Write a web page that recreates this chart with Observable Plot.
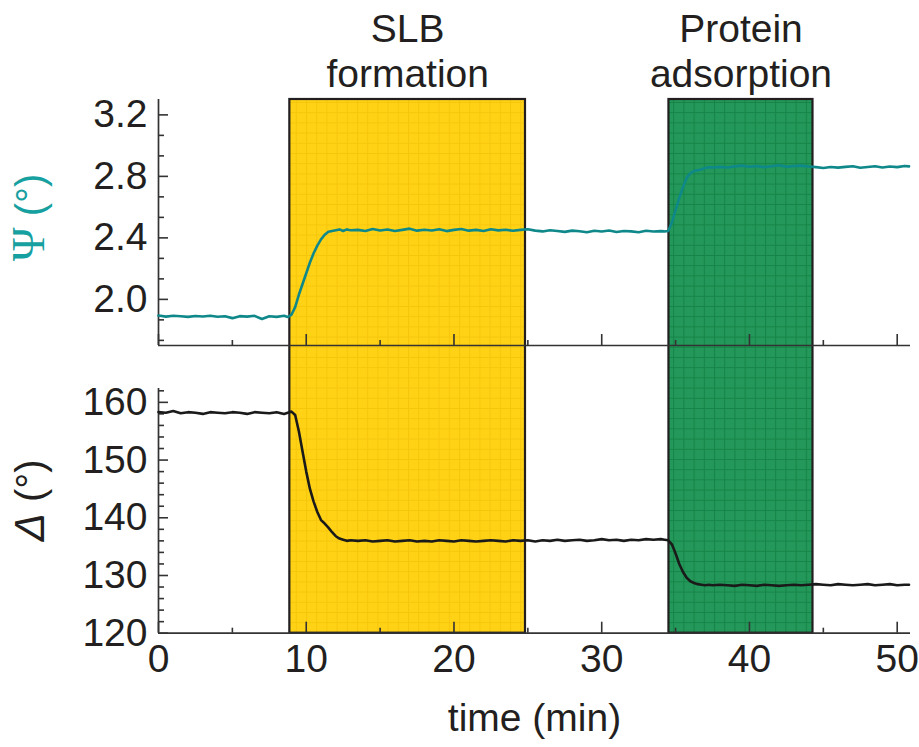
<!DOCTYPE html>
<html><head><meta charset="utf-8">
<script src="https://cdn.jsdelivr.net/npm/d3@7"></script>
<script src="https://cdn.jsdelivr.net/npm/@observablehq/plot@0.6"></script>
<style>
body{margin:0;background:#fff;}
#chart{position:relative;width:919px;height:747px;}
#chart svg{position:absolute;left:0;top:0;}
</style></head><body><div id="chart"></div>
<script>
// ---- data ----
const time = [0,0.5,1,1.5,2,2.5,3,3.5,4,4.5,5,5.5,6,6.5,7,7.5,8,8.5,
 8.75,9,9.25,9.5,9.75,10,10.25,10.5,10.75,11,11.25,11.5,11.75,12,12.25,12.5,12.75,13,
 13.5,14,14.5,15,15.5,16,16.5,17,17.5,18,18.5,19,19.5,20,20.5,21,21.5,22,22.5,23,23.5,24,24.5,25,25.5,26,26.5,27,27.5,28,28.5,29,29.5,30,30.5,31,31.5,32,32.5,33,33.5,34,
 34.25,34.5,34.75,35,35.25,35.5,35.75,36,36.25,36.5,36.75,37,37.25,37.5,
 38,38.5,39,39.5,40,40.5,41,41.5,42,42.5,43,43.5,44,44.5,45,45.5,46,46.5,47,47.5,48,48.5,49,49.5,50,50.5,50.8];
const psi = [1.895,1.888,1.893,1.89,1.886,1.892,1.889,1.894,1.887,1.89,1.878,1.891,1.888,1.893,1.872,1.89,1.886,1.893,
 1.885,1.9,1.95,2.03,2.1,2.17,2.24,2.3,2.35,2.39,2.42,2.44,2.445,2.45,2.455,2.445,2.455,2.45,
 2.452,2.445,2.458,2.448,2.455,2.445,2.452,2.46,2.447,2.453,2.448,2.456,2.444,2.452,2.458,2.447,2.452,2.445,2.456,2.449,2.453,2.446,2.452,2.456,2.447,2.442,2.45,2.445,2.439,2.447,2.443,2.437,2.446,2.441,2.448,2.438,2.445,2.442,2.437,2.446,2.441,2.444,
 2.442,2.445,2.5,2.58,2.66,2.73,2.79,2.82,2.835,2.84,2.845,2.855,2.86,2.858,
 2.862,2.858,2.865,2.87,2.863,2.868,2.86,2.866,2.872,2.862,2.867,2.87,2.864,2.86,2.855,2.861,2.857,2.862,2.866,2.856,2.861,2.866,2.858,2.864,2.86,2.868,2.865];
const delta = [158.3,158.2,158.5,158.1,158.3,158.2,158.0,158.3,158.2,158.1,158.3,158.2,158.0,158.3,158.2,158.1,158.3,158.0,
 158.2,158.4,157.8,155.0,151.5,148.0,145.0,142.8,141.0,139.6,139.0,138.3,137.5,136.8,136.4,136.2,136.0,136.1,
 136.0,136.1,135.9,136.0,136.1,135.9,136.0,136.1,135.9,136.0,135.9,136.1,136.0,135.9,136.1,136.0,135.9,136.0,136.1,136.0,135.9,136.1,136.0,136.1,135.9,136.1,136.0,136.2,136.0,136.1,136.2,136.0,136.1,136.3,136.1,136.2,136.0,136.2,136.1,136.3,136.2,136.3,
 136.2,136.1,135.4,133.8,132.0,130.6,129.6,129.0,128.7,128.5,128.4,128.3,128.4,128.3,
 128.4,128.3,128.2,128.4,128.3,128.2,128.4,128.3,128.2,128.3,128.4,128.3,128.4,128.5,128.4,128.3,128.5,128.4,128.3,128.4,128.5,128.3,128.4,128.5,128.3,128.4,128.4];
const psiTicks = [2.0, 2.4, 2.8, 3.2];
const psiMinorTicks = [1.7333, 1.8667, 2.1333, 2.2667, 2.5333, 2.6667, 2.9333, 3.0667];
const deltaTicks = [120, 130, 140, 150, 160];
const deltaMinorTicks = [122,124,126,128,132,134,136,138,142,144,146,148,152,154,156,158,162];
const timeTicks = [0, 10, 20, 30, 40, 50];
const timeMinorTicks = [5, 15, 25, 35, 45];
const stepLabels = ["SLB\nformation", "Protein\nadsorption"];
const stepStart = [8.89, 34.55];
const stepEnd = [24.84, 44.3];
const timeDomain = [0, 50.9];
const psiDomain = [1.70, 3.30];
const deltaDomain = [120, 162.4];

// ---- tables ----
const rows = time.map((t, i) => ({t, psi: psi[i], delta: delta[i]}));
const steps = stepLabels.map((label, i) => ({label, start: stepStart[i], end: stepEnd[i]}));

// ---- styling ----
const W = 919, H = 747, ML = 158, MR = 9;
const FONT = "'Liberation Sans', Arial, Helvetica, sans-serif";
const INK = "#231f20", AXIS = "#333333", TEAL = "#0f888a", TEAL_LABEL = "#17a0a0";
const FS = 39;
const baseStyle = {background: "transparent", font: `${FS}px ${FONT}`, color: INK, overflow: "visible"};
const tickOpts = {stroke: AXIS, strokeWidth: 1.6, tickFormat: () => "", label: null};

const lower = Plot.plot({
  width: W, height: H, marginLeft: ML, marginRight: MR, marginTop: 99, marginBottom: 114.3,
  x: {domain: timeDomain},
  y: {domain: deltaDomain, range: [632.7, 388]},
  style: baseStyle,
  marks: [
    Plot.rect([steps[0]], {x1: "start", x2: "end", fill: "url(#slbPattern)", stroke: INK, strokeWidth: 2.2}),
    Plot.rect([steps[1]], {x1: "start", x2: "end", fill: "url(#proteinPattern)", stroke: INK, strokeWidth: 2.2}),
    Plot.ruleX([timeDomain[0]], {y1: () => deltaDomain[0], y2: () => deltaDomain[1], stroke: AXIS, strokeWidth: 1.7}),
    Plot.ruleY([deltaDomain[0]], {stroke: AXIS, strokeWidth: 1.7}),
    Plot.axisY(deltaTicks, {...tickOpts, tickSize: -10}),
    Plot.axisY(deltaMinorTicks, {...tickOpts, tickSize: -6}),
    Plot.axisY(deltaTicks, {tickSize: 0, tickPadding: 11, label: null, fill: INK, fontSize: FS}),
    Plot.axisX(timeTicks, {...tickOpts, anchor: "bottom", tickSize: -11}),
    Plot.axisX(timeMinorTicks, {...tickOpts, anchor: "bottom", tickSize: -5}),
    Plot.axisX(timeTicks, {anchor: "bottom", tickSize: 0, tickPadding: 11, label: null, fill: INK, fontSize: FS}),
    Plot.line(rows, {x: "t", y: "delta", stroke: "#1a1a1a", strokeWidth: 2.6}),
    Plot.text(["time (min)"], {frameAnchor: "bottom", dy: 98, fontSize: FS, fill: INK}),
    Plot.text(["Δ (°)"], {frameAnchor: "left", textAnchor: "middle", rotate: -90, dx: -127, dy: 134, fontSize: 40, fill: INK})
  ]
});

const upper = Plot.plot({
  width: W, height: H, marginLeft: ML, marginRight: MR, marginTop: 99, marginBottom: 402,
  x: {domain: timeDomain},
  y: {domain: psiDomain},
  style: baseStyle,
  marks: [
    Plot.ruleX([timeDomain[0]], {stroke: AXIS, strokeWidth: 1.7}),
    Plot.ruleY([psiDomain[0]], {stroke: AXIS, strokeWidth: 1.7}),
    Plot.axisY(psiTicks, {...tickOpts, tickSize: -10}),
    Plot.axisY(psiMinorTicks, {...tickOpts, tickSize: -6}),
    Plot.axisY(psiTicks, {tickSize: 0, tickPadding: 11, label: null, fill: INK, fontSize: FS, tickFormat: d => d.toFixed(1)}),
    Plot.axisX(timeTicks, {...tickOpts, anchor: "bottom", tickSize: -11}),
    Plot.axisX(timeMinorTicks, {...tickOpts, anchor: "bottom", tickSize: -5}),
    Plot.line(rows, {x: "t", y: "psi", stroke: TEAL, strokeWidth: 2.6}),
    Plot.text(steps, {x: d => (d.start + d.end) / 2, text: "label", frameAnchor: "top", lineAnchor: "bottom", lineHeight: 1.15, dy: -13, fontSize: FS, fill: INK}),
    Plot.text(["Ψ (°)"], {frameAnchor: "left", textAnchor: "middle", rotate: -90, dx: -127, dy: -5, fontSize: 40, fill: TEAL_LABEL})
  ]
});

// ---- patterns for the shaded steps ----
const NS = "http://www.w3.org/2000/svg";
function addPattern(svg, id, base, line) {
  let defs = svg.querySelector("defs");
  if (!defs) { defs = document.createElementNS(NS, "defs"); svg.insertBefore(defs, svg.firstChild); }
  const p = document.createElementNS(NS, "pattern");
  p.setAttribute("id", id); p.setAttribute("patternUnits", "userSpaceOnUse");
  p.setAttribute("width", 10.2); p.setAttribute("height", 10.2);
  const r = document.createElementNS(NS, "rect");
  r.setAttribute("width", 10.2); r.setAttribute("height", 10.2); r.setAttribute("fill", base);
  const pa = document.createElementNS(NS, "path");
  pa.setAttribute("d", "M0,0.5H10.2M0.5,0V10.2");
  pa.setAttribute("stroke", line); pa.setAttribute("stroke-width", 1);
  p.appendChild(r); p.appendChild(pa); defs.appendChild(p);
}
addPattern(lower, "slbPattern", "#ffd215", "#f6c60d");
addPattern(lower, "proteinPattern", "#23985a", "#168446");

// ---- mixed-font axis titles ----
function styleFirstGlyph(svg, str, attrs) {
  for (const t of svg.querySelectorAll("text")) {
    if (t.textContent === str) {
      t.textContent = "";
      const s = document.createElementNS(NS, "tspan");
      s.textContent = str[0];
      for (const [k, v] of Object.entries(attrs)) s.setAttribute(k, v);
      t.appendChild(s);
      t.appendChild(document.createTextNode(str.slice(1)));
    }
  }
}
styleFirstGlyph(upper, "Ψ (°)", {"font-family": "'Liberation Serif', 'DejaVu Serif', serif", "font-size": 46});
styleFirstGlyph(lower, "Δ (°)", {"font-style": "italic", "font-size": 42});

const chart = document.getElementById("chart");
chart.appendChild(lower);
chart.appendChild(upper);
</script></body></html>
